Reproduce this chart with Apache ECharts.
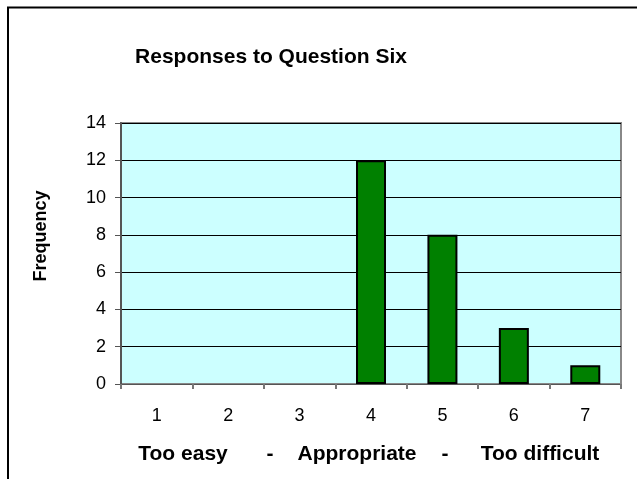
<!DOCTYPE html>
<html>
<head>
<meta charset="utf-8">
<script src="https://cdn.jsdelivr.net/npm/echarts@6/dist/echarts.min.js"></script>
<style>html,body{margin:0;padding:0;background:#fff;}#c{width:637px;height:479px;}</style>
</head>
<body>
<div id="c"></div>
<script>
var categories = ['1','2','3','4','5','6','7'];
var frequency = [0,0,0,12,8,3,1];
var yTicks = {min:0, max:14, interval:2};
var titleText = 'Responses to Question Six';
var xNameParts = ['Too easy','-','Appropriate','-','Too difficult'];
var yName = 'Frequency';

var F = '"Liberation Sans", Arial, sans-serif';
var xNameCenters = [183, 270, 357, 445, 540];
var graphics = [
  {type:'polyline', shape:{points:[[8,479],[8,7.5],[637,7.5]]}, style:{stroke:'#000', lineWidth:2, fill:null}},
  {type:'text', x:41, y:236, rotation:Math.PI/2, style:{text:yName, font:'bold 18px ' + F, fill:'#000', textAlign:'center', textVerticalAlign:'middle'}}
];
xNameParts.forEach(function(t,i){
  graphics.push({type:'text', x:xNameCenters[i], y:454, style:{text:t, font:'bold 21px ' + F, fill:'#000', textAlign:'center', textVerticalAlign:'middle'}});
});

var chart = echarts.init(document.getElementById('c'), null, {renderer:'canvas'});
chart.setOption({
  animation:false,
  backgroundColor:'#fff',
  title:{text:titleText, left:266, top:42, textAlign:'center',
    textStyle:{fontFamily:F, fontWeight:'bold', fontSize:21, color:'#000'}},
  graphic:graphics,
  grid:{left:121, top:123, right:16, bottom:95, show:true, backgroundColor:'#CCFFFF', borderColor:'#888', borderWidth:2},
  xAxis:{type:'category', data:categories, boundaryGap:true,
    axisLine:{lineStyle:{color:'#555', width:1}},
    axisTick:{show:true, length:5, alignWithLabel:false, lineStyle:{color:'#777', width:2}},
    axisLabel:{color:'#000', fontFamily:F, fontSize:18, margin:23}},
  yAxis:{type:'value', min:yTicks.min, max:yTicks.max, interval:yTicks.interval,
    axisLine:{show:true, lineStyle:{color:'#555', width:2}},
    axisTick:{show:true, length:6, lineStyle:{color:'#555'}},
    splitLine:{show:true, lineStyle:{color:'#000', width:1}},
    axisLabel:{color:'#000', fontFamily:F, fontSize:18, margin:15}},
  series:[{type:'bar', data:frequency.map(function(v){return v === 0 ? '-' : v;}), barWidth:'42%',
    itemStyle:{color:'#008000', borderColor:'#000', borderWidth:2}}]
});
</script>
</body>
</html>
